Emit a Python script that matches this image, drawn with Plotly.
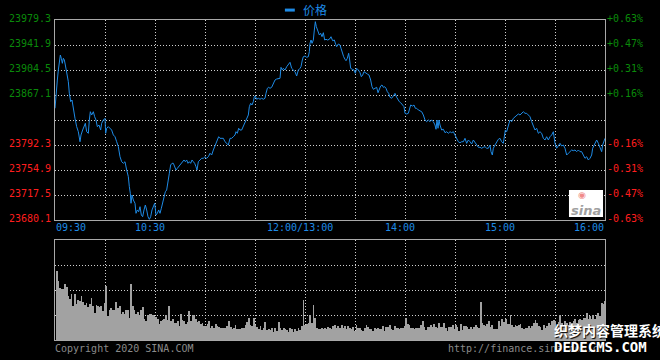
import plotly.graph_objects as go
import numpy as np

# ---------------- data ----------------
prev_close = 23829.7
level_prices = [23979.3, 23941.9, 23904.5, 23867.1, 23829.7, 23792.3, 23754.9, 23717.5, 23680.1]
left_labels = ["23979.3", "23941.9", "23904.5", "23867.1", "", "23792.3", "23754.9", "23717.5", "23680.1"]
right_labels = ["+0.63%", "+0.47%", "+0.31%", "+0.16%", "", "-0.16%", "-0.31%", "-0.47%", "-0.63%"]

time_ticks = [0, 60, 150, 210, 270, 330]
time_labels = ["09:30", "10:30", "12:00/13:00", "14:00", "15:00", "16:00"]

# minutes since 09:30 (lunch break removed) and index price
price_minute = [
    0, 0.6, 1.4, 2.0, 2.6, 3.2, 3.8, 4.4, 5.0, 5.6,
    6.2, 7.0, 8.0, 8.6, 9.4, 10.2, 11.0, 12.0, 13.0, 14.0,
    15.0, 15.6, 16.6, 17.4, 18.2, 19.0, 20.0, 20.6, 21.2, 22.0,
    23.0, 23.8, 24.6, 25.4, 26.4, 27.4, 28.0, 29.0, 30.0, 30.4,
    31.0, 32.0, 33.0, 34.0, 35.0, 36.0, 37.0, 38.0, 39.0, 40.0,
    41.0, 42.0, 43.0, 44.0, 44.6, 45.2, 45.6, 46.2, 47.0, 48.0,
    48.6, 49.4, 50.2, 51.0, 51.8, 52.6, 53.4, 54.2, 55.0, 55.8,
    56.6, 57.4, 58.2, 59.0, 59.8, 60.6, 61.4, 62.2, 63.0, 63.8,
    64.6, 65.4, 66.2, 67.0, 67.8, 68.6, 69.4, 70.2, 71.0, 71.8,
    72.6, 73.4, 74.2, 75.0, 75.8, 76.6, 77.4, 78.2, 79.0, 79.8,
    80.6, 81.4, 82.2, 83.0, 83.8, 84.6, 85.2, 86.0, 87.0, 88.0,
    89.0, 90.0, 91.0, 92.0, 93.0, 94.0, 95.0, 95.8, 96.6, 97.4,
    98.2, 99.0, 100.0, 101.0, 102.0, 103.0, 104.0, 105.0, 106.0, 107.0,
    108.0, 108.6, 109.4, 110.2, 111.0, 112.0, 113.0, 114.0, 115.0, 116.0, 116.6,
    117.4, 118.2, 119.0, 119.6, 120.2, 121.0, 122.0, 123.0, 124.0, 125.0,
    126.0, 126.6, 127.4, 128.2, 129.0, 130.0, 131.0, 132.0, 133.0, 134.0,
    135.0, 135.6, 136.4, 137.0, 138.0, 139.0, 140.0, 141.0, 142.0, 143.0,
    144.0, 145.0, 146.0, 147.0, 147.6, 148.4, 149.0, 150.0, 151.0, 152.0,
    152.6, 153.0, 153.6, 154.2, 155.0, 155.6, 156.2, 156.8, 157.4, 158.0,
    158.6, 159.4, 160.2, 161.0, 161.8, 162.6, 163.6, 164.6, 165.6, 166.6,
    167.6, 168.4, 169.0, 170.0, 171.0, 171.6, 172.4, 173.2, 174.0, 174.6,
    175.4, 176.2, 176.8, 177.4, 178.4, 179.4, 180.2, 181.0, 182.0, 183.0,
    183.8, 184.6, 185.4, 186.4, 187.4, 188.4, 189.4, 190.2, 191.0, 192.0,
    193.0, 193.8, 194.6, 195.4, 196.2, 197.0, 197.8, 198.6, 199.4, 200.2,
    201.0, 202.0, 203.0, 204.0, 205.0, 205.8, 206.6, 207.4, 208.4, 209.4,
    210.0, 211.0, 212.0, 212.6, 213.4, 214.6, 215.4, 216.2, 217.0, 218.0, 219.0,
    220.0, 221.0, 222.0, 223.0, 224.0, 225.0, 226.0, 227.0, 228.0, 228.6,
    229.2, 229.8, 230.4, 231.0, 232.0, 233.0, 234.0, 235.0, 236.0, 237.0,
    238.0, 239.0, 240.0, 241.0, 242.0, 243.0, 244.0, 245.0, 246.0, 247.0,
    248.0, 249.0, 250.0, 251.0, 252.0, 253.0, 254.0, 255.0, 256.0, 257.0,
    258.0, 259.0, 260.0, 261.0, 261.6, 262.4, 263.0, 264.0, 265.0, 266.0,
    267.0, 268.0, 269.0, 269.6, 270.2, 271.0, 271.6, 272.4, 273.0, 274.0,
    275.0, 276.0, 277.0, 278.0, 279.0, 280.0, 281.0, 282.0, 283.0, 284.0,
    285.0, 286.0, 287.0, 288.0, 289.0, 290.0, 291.0, 292.0, 293.0, 294.0,
    295.0, 296.0, 297.0, 298.0, 299.0, 300.0, 301.0, 302.0, 303.0, 304.0,
    305.0, 306.0, 307.0, 308.0, 309.0, 310.0, 311.0, 312.0, 313.0, 314.0,
    315.0, 316.0, 317.0, 318.0, 319.0, 320.0, 321.0, 322.0, 322.6, 323.4,
    324.2, 325.0, 326.0, 327.0, 328.0, 328.6, 329.4, 330.0,
]
price_value = [
    23847.2, 23869.6, 23889.5, 23904.5, 23914.5, 23926.9, 23922.0, 23914.5, 23922.0, 23919.5,
    23912.0, 23899.6, 23887.0, 23869.6, 23857.1, 23859.6, 23844.7, 23832.2, 23819.7, 23812.2,
    23797.2, 23807.3, 23814.7, 23819.7, 23824.8, 23812.2, 23809.8, 23829.7, 23842.1, 23837.2,
    23842.1, 23834.6, 23829.7, 23819.7, 23822.2, 23814.7, 23824.8, 23829.7, 23832.2, 23809.8,
    23817.3, 23819.7, 23817.3, 23814.7, 23807.3, 23804.7, 23797.2, 23789.8, 23774.8, 23767.3,
    23764.9, 23767.3, 23754.9, 23744.9, 23729.9, 23720.0, 23705.1, 23717.5, 23710.0, 23705.1,
    23690.1, 23695.1, 23692.5, 23700.0, 23687.6, 23685.0, 23695.1, 23702.5, 23695.1, 23685.0,
    23681.1, 23685.0, 23695.1, 23700.0, 23705.1, 23687.6, 23690.1, 23695.1, 23690.1, 23697.6,
    23705.1, 23712.6, 23722.4, 23725.0, 23735.0, 23750.0, 23762.4, 23764.9, 23764.9, 23759.8,
    23754.9, 23757.4, 23759.8, 23762.4, 23764.9, 23767.3, 23769.9, 23767.3, 23769.9, 23764.9,
    23767.3, 23764.9, 23769.9, 23767.3, 23764.9, 23759.8, 23754.9, 23767.3, 23769.9, 23772.4,
    23772.4, 23774.8, 23772.4, 23774.8, 23779.9, 23777.3, 23784.8, 23789.8, 23794.8, 23797.2,
    23804.7, 23802.3, 23802.3, 23802.3, 23797.2, 23794.8, 23792.3, 23802.3, 23802.3, 23804.7,
    23807.3, 23812.2, 23809.8, 23817.3, 23814.7, 23814.7, 23819.7, 23824.8, 23832.2, 23837.2, 23849.6,
    23854.7, 23852.1, 23857.1, 23864.6, 23865.6, 23860.7, 23862.2, 23860.7, 23862.2, 23860.7,
    23862.2, 23869.6, 23877.1, 23878.6, 23877.1, 23878.6, 23884.6, 23889.5, 23891.0, 23892.1,
    23892.1, 23908.5, 23904.5, 23907.0, 23904.5, 23909.4, 23913.5, 23916.0, 23907.0, 23904.5,
    23902.0, 23895.5, 23904.5, 23907.0, 23909.4, 23919.5, 23924.4, 23925.4, 23923.5, 23924.4,
    23931.9, 23944.4, 23949.4, 23944.4, 23949.4, 23964.3, 23976.8, 23969.3, 23964.3, 23961.8,
    23956.9, 23959.4, 23954.3, 23960.3, 23949.4, 23950.4, 23949.4, 23950.4, 23954.3, 23948.3,
    23949.4, 23942.9, 23939.4, 23943.4, 23941.9, 23937.0, 23929.5, 23924.4, 23920.5, 23918.4,
    23922.0, 23929.5, 23919.5, 23907.0, 23905.5, 23904.5, 23899.6, 23907.0, 23904.5, 23900.5,
    23894.5, 23897.0, 23902.0, 23899.6, 23898.5, 23897.0, 23889.5, 23879.5, 23875.6, 23877.1,
    23878.6, 23870.5, 23875.6, 23880.6, 23882.1, 23878.6, 23879.5, 23877.1, 23872.0, 23869.6,
    23863.7, 23862.2, 23865.6, 23869.6, 23863.7, 23859.6, 23857.1, 23855.6, 23852.1, 23849.6,
    23839.7, 23838.7, 23839.7, 23847.2, 23852.1, 23850.6, 23852.1, 23847.2, 23847.2, 23844.7, 23843.6,
    23842.1, 23837.2, 23829.7, 23827.2, 23829.7, 23827.2, 23829.7, 23827.2, 23822.2, 23815.8,
    23829.7, 23817.3, 23829.7, 23822.2, 23814.7, 23815.8, 23810.7, 23812.2, 23809.8, 23812.2,
    23810.7, 23812.2, 23807.3, 23802.3, 23797.2, 23795.7, 23797.2, 23797.2, 23802.3, 23794.8,
    23799.8, 23797.2, 23793.8, 23799.8, 23795.7, 23793.3, 23788.9, 23788.9, 23787.4, 23788.9,
    23789.8, 23787.4, 23787.4, 23792.3, 23782.3, 23777.3, 23787.4, 23792.3, 23797.2, 23800.8,
    23802.3, 23797.2, 23794.8, 23804.7, 23814.7, 23812.2, 23819.7, 23824.8, 23829.7, 23827.2,
    23832.2, 23834.6, 23837.2, 23838.7, 23837.2, 23840.6, 23842.1, 23839.7, 23839.7, 23837.2,
    23834.6, 23827.2, 23822.2, 23814.7, 23817.3, 23809.8, 23812.2, 23809.8, 23802.3, 23799.8,
    23804.7, 23799.8, 23804.7, 23807.3, 23812.2, 23794.8, 23787.4, 23792.3, 23794.8, 23790.8,
    23792.3, 23787.4, 23777.3, 23779.9, 23782.3, 23784.8, 23783.8, 23784.8, 23782.3, 23784.8,
    23782.3, 23782.3, 23777.3, 23772.4, 23774.8, 23769.9, 23772.4, 23777.3, 23787.4, 23792.3,
    23794.8, 23799.8, 23794.8, 23787.4, 23782.3, 23792.3, 23799.8, 23802.3,
]

# per-minute volume (relative units, 100 = top of the volume panel)
volume = [
    69, 59, 52, 51, 51, 56, 53, 44, 41, 46, 34, 46, 36, 40, 39, 44, 38, 35, 37, 33,
    36, 42, 34, 27, 35, 34, 33, 34, 29, 37, 54, 24, 30, 32, 30, 30, 38, 32, 34, 26,
    28, 26, 30, 30, 22, 56, 34, 30, 26, 28, 25, 30, 33, 21, 19, 25, 26, 26, 25, 24,
    23, 21, 16, 19, 20, 21, 25, 20, 34, 19, 21, 17, 17, 19, 14, 26, 20, 19, 16, 18, 29,
    19, 25, 25, 21, 18, 19, 16, 17, 14, 14, 16, 19, 12, 14, 12, 16, 14, 13, 12, 12,
    12, 12, 14, 19, 13, 11, 12, 15, 11, 11, 11, 12, 12, 15, 18, 22, 15, 14, 22, 15,
    13, 11, 14, 10, 12, 18, 10, 11, 10, 12, 8, 12, 9, 18, 12, 10, 12, 11, 10, 8,
    12, 11, 8, 11, 9, 12, 10, 14, 40, 15, 16, 17, 25, 17, 35, 22, 12, 11, 11, 12,
    11, 12, 11,
    13, 12, 11, 14, 15, 12, 14, 12, 15, 12, 14, 11, 14, 12, 11, 13, 9, 15, 12,
    12, 10, 9, 12, 15, 13, 11, 11, 9, 12, 11, 12, 11, 11, 14, 9, 13, 13, 15, 11,
    10, 14, 12, 12, 11, 12, 12, 14, 22, 16, 15, 12, 12, 11, 12, 12, 12, 15, 19, 13,
    10, 13, 13, 15, 13, 16, 13, 12, 17, 13, 13, 17, 12, 9, 13, 13, 15, 11, 15, 13,
    9, 16, 10, 14,
    14, 13, 11, 13, 11, 13, 15, 13, 12, 38, 17, 15, 14, 16, 19, 13, 15, 11, 11,
    11, 19, 14, 21, 18, 21, 16, 16, 25, 15, 13, 15, 14, 15, 16, 12, 11, 12, 12, 14,
    12, 14, 17, 20, 17, 14, 13, 10, 15, 12, 14, 17, 15, 19, 20, 19, 13, 18, 25, 17,
    15, 19, 17, 15, 18, 17, 19, 21, 17, 20, 21, 20, 22, 22, 27, 21, 24, 21, 25, 21,
    25, 27, 24, 37, 36, 39,
]

# ---------------- styling ----------------
BG = "#000000"
LINE_BLUE = "#1e8be6"
GRID = "#cfcfcf"
BORDER = "#a8a8a8"
UP = "#0a8a0a"
DOWN = "#ff1e1e"
MONO = "DejaVu Sans Mono"
TOTAL_MIN = 330

vol_x = np.linspace(1, TOTAL_MIN, len(volume))

fig = go.Figure()
fig.add_trace(go.Scatter(
    x=price_minute, y=price_value, mode="lines", name="价格",
    line=dict(color=LINE_BLUE, width=1), xaxis="x", yaxis="y",
    showlegend=False, hoverinfo="skip",
))
fig.add_trace(go.Bar(
    x=vol_x, y=volume, width=0.5, marker=dict(color="#a2a2a2", line=dict(width=0)),
    xaxis="x2", yaxis="y2", showlegend=False, hoverinfo="skip",
))

grid_x = list(range(30, TOTAL_MIN, 30))
common_x = dict(range=[0, TOTAL_MIN], tickvals=grid_x, showticklabels=False, ticks="",
                showgrid=True, gridcolor=GRID, griddash="1px,2px", gridwidth=1,
                zeroline=False, showline=True, mirror=True, linecolor=BORDER, linewidth=1,
                fixedrange=True)

fig.update_layout(
    width=660, height=360,
    margin=dict(l=55, r=55, t=20, b=20),
    paper_bgcolor=BG, plot_bgcolor=BG,
    bargap=0,
    xaxis=dict(domain=[0, 1], anchor="y", **common_x),
    xaxis2=dict(domain=[0, 1], anchor="y2", **common_x),
    yaxis=dict(domain=[0.375, 1], anchor="x", range=[level_prices[-1], level_prices[0]],
               tickvals=level_prices[1:-1], showticklabels=False, ticks="",
               showgrid=True, gridcolor=GRID, griddash="1px,2px", gridwidth=1,
               zeroline=False, showline=True, mirror=True, linecolor=BORDER, linewidth=1,
               fixedrange=True),
    yaxis2=dict(domain=[0, 0.3125], anchor="x2", range=[0, 100],
                tickvals=[25, 50, 75], showticklabels=False, ticks="",
                showgrid=True, gridcolor=GRID, griddash="1px,2px", gridwidth=1,
                zeroline=False, showline=True, mirror=True, linecolor=BORDER, linewidth=1,
                fixedrange=True),
    showlegend=False,
)

ann = []
for p, lt, rt in zip(level_prices, left_labels, right_labels):
    if not lt:
        continue
    col = UP if p > prev_close else DOWN
    ann.append(dict(xref="paper", yref="y", x=0, y=p, text=lt, showarrow=False,
                    xanchor="right", yanchor="middle", xshift=-2, yshift=2,
                    font=dict(family=MONO, size=10, color=col)))
    ann.append(dict(xref="paper", yref="y", x=1, y=p, text=rt, showarrow=False,
                    xanchor="left", yanchor="middle", xshift=0, yshift=2,
                    font=dict(family=MONO, size=10, color=col)))

for i, (t, lab) in enumerate(zip(time_ticks, time_labels)):
    if i == 0:
        xa, xs = "left", -1
    elif i == len(time_ticks) - 1:
        xa, xs = "right", 1
    else:
        xa, xs = "center", -5
    ann.append(dict(xref="x", yref="paper", x=t, y=0.353, text=lab, showarrow=False,
                    xanchor=xa, yanchor="middle", xshift=xs,
                    font=dict(family=MONO, size=10, color=LINE_BLUE)))

# legend
ann.append(dict(xref="paper", yref="paper", x=0.447, y=1.032, text="价格", showarrow=False,
                xanchor="left", yanchor="middle",
                font=dict(family="Noto Sans CJK SC", size=12, color=LINE_BLUE)))
# footer
ann.append(dict(xref="paper", yref="paper", x=0, y=-0.028, text="Copyright 2020 SINA.COM",
                showarrow=False, xanchor="left", yanchor="middle", xshift=-2,
                font=dict(family=MONO, size=10, color="#8a8a8a")))
ann.append(dict(xref="paper", yref="paper", x=1, y=-0.028, text="http://finance.sina.com.cn",
                showarrow=False, xanchor="right", yanchor="middle", xshift=2,
                font=dict(family=MONO, size=10, color="#8a8a8a")))
# sina logo
ann.append(dict(xref="paper", yref="paper", x=0.965, y=0.405, text="<b><i>sina</i></b>",
                showarrow=False, xanchor="center", yanchor="middle",
                font=dict(family="DejaVu Sans", size=13, color="#a0a0a0")))
ann.append(dict(xref="paper", yref="paper", x=0.958, y=0.452, text="◉",
                showarrow=False, xanchor="center", yanchor="middle",
                font=dict(family="DejaVu Sans", size=9, color="#f08a8a")))
# watermark
ann.append(dict(xref="paper", yref="paper", x=0.9036, y=0.03, text="<b>织梦内容管理系统</b>",
                showarrow=False, xanchor="left", yanchor="middle",
                font=dict(family="Noto Sans CJK SC", size=14, color="#ffffff",
                          shadow="1px 1px 1px #000")))
ann.append(dict(xref="paper", yref="paper", x=0.9036, y=-0.022, text="<b>DEDECMS.COM</b>",
                showarrow=False, xanchor="left", yanchor="middle",
                font=dict(family=MONO, size=14, color="#ffffff",
                          shadow="1px 1px 1px #000")))
fig.update_layout(annotations=ann)

fig.update_layout(shapes=[
    dict(type="line", xref="paper", yref="paper", x0=0.418, x1=0.436, y0=1.031, y1=1.031,
         line=dict(color=LINE_BLUE, width=3)),
    dict(type="rect", xref="paper", yref="paper", x0=0.9345, x1=0.9964, y0=0.384, y1=0.469,
         fillcolor="#ffffff", line=dict(width=0), layer="above"),
])

fig.write_html(
    "out.html",
    config={"displayModeBar": False},
    post_script="document.body.style.margin='0';document.body.style.overflow='hidden';"
                "document.body.style.background='#000';",
)
